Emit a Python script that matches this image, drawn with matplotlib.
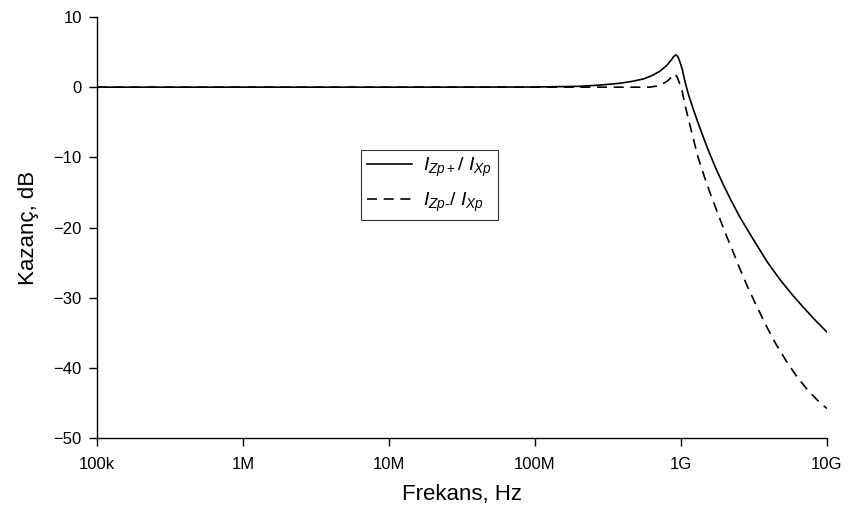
import matplotlib
matplotlib.use("Agg")
import matplotlib.pyplot as plt
from matplotlib.ticker import FixedLocator, FixedFormatter, NullLocator

plt.rcParams['font.family'] = ['Liberation Sans', 'DejaVu Sans']
plt.rcParams['mathtext.fontset'] = 'custom'
plt.rcParams['mathtext.it'] = 'Liberation Sans:italic'
plt.rcParams['mathtext.rm'] = 'Liberation Sans'

# ------------------------------
# Gain curves (Hz, dB)
# ------------------------------
freq_plus = [1e5, 1e6, 1e7, 1e8, 2e8, 2.8e8, 3.8e8, 4.7e8, 5.6e8, 6.4e8,
             7.2e8, 8.0e8, 8.6e8, 8.9e8, 9.2e8, 9.5e8, 9.8e8, 1.02e9,
             1.06e9, 1.12e9, 1.19e9, 1.3e9, 1.41e9, 1.53e9, 1.72e9,
             1.94e9, 2.2e9, 2.53e9, 3.11e9, 3.9e9, 4.76e9, 5.85e9,
             6.85e9, 8.3e9, 1e10]
gain_plus = [0, 0, 0, 0.02, 0.12, 0.3, 0.55, 0.85, 1.2, 1.7,
             2.3, 3.1, 3.9, 4.35, 4.6, 4.4, 3.7, 2.6,
             1.0, -0.9, -2.6, -4.9, -6.9, -8.85, -11.4,
             -13.8, -16.1, -18.5, -21.6, -24.9, -27.4, -29.7,
             -31.3, -33.2, -34.9]

freq_minus = [1e5, 1e6, 1e7, 1e8, 3e8, 6.1e8, 6.8e8, 7.4e8, 8.1e8, 8.6e8,
              9.0e8, 9.4e8, 9.8e8, 1.02e9, 1.06e9, 1.1e9, 1.19e9, 1.31e9,
              1.46e9, 1.63e9, 1.85e9, 2.07e9, 2.27e9, 2.5e9, 2.88e9,
              3.3e9, 3.88e9, 4.5e9, 5.33e9, 6.2e9, 7.4e9, 8.6e9, 1e10]
gain_minus = [0, 0, 0, 0, 0, 0.0, 0.15, 0.4, 0.9, 1.4,
              1.9, 1.5, 0.5, -0.6, -2.3, -3.7, -6.6, -10.0,
              -13.0, -15.8, -18.8, -21.4, -23.4, -25.6, -28.6,
              -31.2, -34.2, -36.7, -39.2, -41.2, -43.2, -44.6, -45.8]

xticks = [1e5, 1e6, 1e7, 1e8, 1e9, 1e10]
xtick_labels = ['100k', '1M', '10M', '100M', '1G', '10G']
yticks = [-50, -40, -30, -20, -10, 0, 10]

# ------------------------------
# Figure
# ------------------------------
fig = plt.figure(figsize=(8.49, 5.12), dpi=100)
ax = fig.add_axes([0.1143, 0.1445, 0.8597, 0.8223])

ax.plot(freq_plus, gain_plus, color='black', lw=1.2, label=r'$I_{Zp+}/\ I_{Xp}$')
ax.plot(freq_minus, gain_minus, color='black', lw=1.2, dashes=(6, 4),
        label=r'$I_{Zp\text{-}}/\ I_{Xp}$')

ax.set_xscale('log')
ax.set_xlim(1e5, 1e10)
ax.set_ylim(-50, 10)
ax.xaxis.set_major_locator(FixedLocator(xticks))
ax.xaxis.set_major_formatter(FixedFormatter(xtick_labels))
ax.xaxis.set_minor_locator(NullLocator())
ax.set_yticks(yticks)
ax.set_yticklabels(['\u221250', '\u221240', '\u221230', '\u221220', '\u221210', '0', '10'])

for side in ['top', 'right']:
    ax.spines[side].set_visible(False)
for side in ['left', 'bottom']:
    ax.spines[side].set_linewidth(1.0)
ax.tick_params(direction='out', length=6, width=1.0, labelsize=12)
ax.tick_params(axis='x', pad=8)
ax.tick_params(axis='y', pad=5)

ax.set_xlabel('Frekans, Hz', fontsize=16, labelpad=8)
ax.set_ylabel('Kazanç, dB', fontsize=16, labelpad=10)

leg = ax.legend(loc='upper left', bbox_to_anchor=(0.362, 0.684), borderaxespad=0,
                fontsize=14, frameon=True, fancybox=False, handlelength=2.3,
                handletextpad=0.6, labelspacing=0.6, borderpad=0.3)
leg.get_frame().set_edgecolor('black')
leg.get_frame().set_linewidth(0.8)

plt.savefig("out.png", dpi=100)
